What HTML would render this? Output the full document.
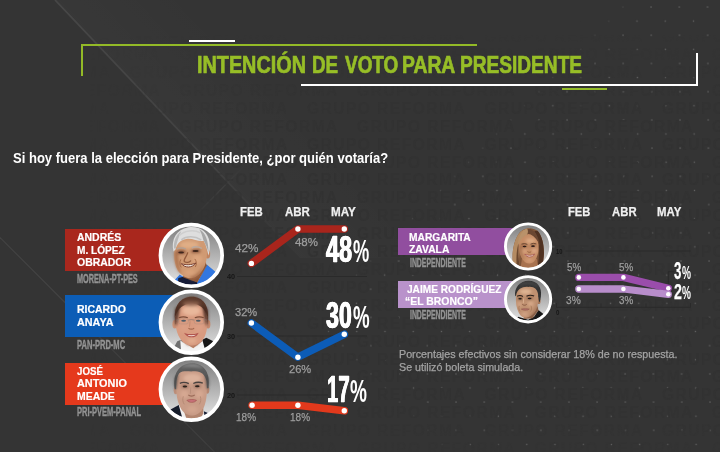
<!DOCTYPE html>
<html lang="es">
<head>
<meta charset="utf-8">
<title>Intención de voto para Presidente</title>
<style>
html,body{margin:0;padding:0;}
body{width:720px;height:452px;overflow:hidden;background:#343434;font-family:"Liberation Sans",sans-serif;}
#stage{position:relative;width:720px;height:452px;overflow:hidden;background:#343434;}
.t{position:absolute;white-space:nowrap;line-height:1;transform-origin:0 0;font-family:"Liberation Sans",sans-serif;}
.abs{position:absolute;}
.wm{position:absolute;left:60px;top:84px;width:680px;font-weight:bold;font-size:17px;line-height:17.6px;color:#313131;letter-spacing:0.5px;white-space:nowrap;overflow:hidden;}
.wmwrap{position:absolute;left:0;top:0;width:720px;height:452px;overflow:hidden;-webkit-mask-image:linear-gradient(to right,rgba(0,0,0,0) 90px,rgba(0,0,0,1) 340px);mask-image:linear-gradient(to right,rgba(0,0,0,0) 90px,rgba(0,0,0,1) 340px);}
.wmwrap2{position:absolute;left:0;top:0;width:720px;height:452px;-webkit-mask-image:linear-gradient(to bottom,rgba(0,0,0,0) 35px,rgba(0,0,0,1) 125px,rgba(0,0,0,1) 395px,rgba(0,0,0,0.25) 452px);mask-image:linear-gradient(to bottom,rgba(0,0,0,0) 35px,rgba(0,0,0,1) 125px,rgba(0,0,0,1) 395px,rgba(0,0,0,0.25) 452px);}
.wr{position:absolute;white-space:nowrap;height:16px;line-height:16px;font-size:15.6px;font-weight:bold;color:#323232;letter-spacing:1.45px;}
.wc{display:inline-block;width:177.5px;}
svg{position:absolute;left:0;top:0;}
</style>
</head>
<body>
<div id="stage">

<!-- background layer: diagonals, watermark, dots -->
<svg width="720" height="452" viewBox="0 0 720 452">
  <defs>
    <pattern id="dotp" x="594.6" y="7" width="28.22" height="28.22" patternUnits="userSpaceOnUse" patternTransform="matrix(1,0,0.0063,1,-0.05,0)">
      <rect x="-0.6" y="-0.6" width="1.3" height="1.3" fill="#636363"/>
      <rect x="27.62" y="-0.6" width="1.3" height="1.3" fill="#636363"/>
      <rect x="-0.6" y="27.62" width="1.3" height="1.3" fill="#636363"/>
      <rect x="27.62" y="27.62" width="1.3" height="1.3" fill="#636363"/>
      <rect x="13.46" y="13.46" width="1.3" height="1.3" fill="#636363"/>
    </pattern>
    <filter id="mblur" x="-10%" y="-10%" width="120%" height="120%"><feGaussianBlur stdDeviation="9"/></filter>
    <mask id="dotmask" maskUnits="userSpaceOnUse" x="0" y="0" width="720" height="452"><polygon points="664,-30 312,322 482,480 780,480 780,-30" fill="#fff" filter="url(#mblur)"/></mask>
    <linearGradient id="diag1" gradientUnits="userSpaceOnUse" x1="55" y1="0" x2="300" y2="258">
      <stop offset="0" stop-color="#474747"/>
      <stop offset="0.65" stop-color="#424242"/>
      <stop offset="1" stop-color="#3a3a3a" stop-opacity="0"/>
    </linearGradient>
    <linearGradient id="fold" gradientUnits="userSpaceOnUse" x1="150" y1="100" x2="222" y2="31">
      <stop offset="0" stop-color="#fff" stop-opacity="0.018"/>
      <stop offset="1" stop-color="#fff" stop-opacity="0"/>
    </linearGradient>
    <linearGradient id="diag2" gradientUnits="userSpaceOnUse" x1="190" y1="221" x2="245" y2="165">
      <stop offset="0" stop-color="#3d3d3d" stop-opacity="0"/>
      <stop offset="0.6" stop-color="#3f3f3f"/>
      <stop offset="1" stop-color="#3d3d3d" stop-opacity="0"/>
    </linearGradient>
  </defs>
  <polygon points="55,0 300,258 720,258 720,0" fill="url(#fold)"/>
  <line x1="55" y1="0" x2="300" y2="258" stroke="url(#diag1)" stroke-width="1.7"/>
  <line x1="190" y1="221" x2="245" y2="165" stroke="url(#diag2)" stroke-width="1.1"/>
  <line x1="-1" y1="236.5" x2="66" y2="303.5" stroke="#434343" stroke-width="1.2"/>
  <line x1="66" y1="303.5" x2="216" y2="453.5" stroke="#3e3e3e" stroke-width="1.2"/>
  <rect width="720" height="452" fill="url(#dotp)" mask="url(#dotmask)"/>
</svg>

<!-- watermark -->
<div class="wmwrap"><div class="wmwrap2">
<div class="wr" style="left:-48.1px;top:-6.6px"><span class="wc">GRUPO REFORMA</span><span class="wc">GRUPO REFORMA</span><span class="wc">GRUPO REFORMA</span><span class="wc">GRUPO REFORMA</span><span class="wc">GRUPO REFORMA</span><span class="wc">GRUPO REFORMA</span></div>
<div class="wr" style="left:2.1px;top:11.3px"><span class="wc">GRUPO REFORMA</span><span class="wc">GRUPO REFORMA</span><span class="wc">GRUPO REFORMA</span><span class="wc">GRUPO REFORMA</span><span class="wc">GRUPO REFORMA</span><span class="wc">GRUPO REFORMA</span></div>
<div class="wr" style="left:-48.1px;top:29.2px"><span class="wc">GRUPO REFORMA</span><span class="wc">GRUPO REFORMA</span><span class="wc">GRUPO REFORMA</span><span class="wc">GRUPO REFORMA</span><span class="wc">GRUPO REFORMA</span><span class="wc">GRUPO REFORMA</span></div>
<div class="wr" style="left:2.1px;top:47.1px"><span class="wc">GRUPO REFORMA</span><span class="wc">GRUPO REFORMA</span><span class="wc">GRUPO REFORMA</span><span class="wc">GRUPO REFORMA</span><span class="wc">GRUPO REFORMA</span><span class="wc">GRUPO REFORMA</span></div>
<div class="wr" style="left:-48.1px;top:65.0px"><span class="wc">GRUPO REFORMA</span><span class="wc">GRUPO REFORMA</span><span class="wc">GRUPO REFORMA</span><span class="wc">GRUPO REFORMA</span><span class="wc">GRUPO REFORMA</span><span class="wc">GRUPO REFORMA</span></div>
<div class="wr" style="left:2.1px;top:82.9px"><span class="wc">GRUPO REFORMA</span><span class="wc">GRUPO REFORMA</span><span class="wc">GRUPO REFORMA</span><span class="wc">GRUPO REFORMA</span><span class="wc">GRUPO REFORMA</span><span class="wc">GRUPO REFORMA</span></div>
<div class="wr" style="left:-48.1px;top:100.8px"><span class="wc">GRUPO REFORMA</span><span class="wc">GRUPO REFORMA</span><span class="wc">GRUPO REFORMA</span><span class="wc">GRUPO REFORMA</span><span class="wc">GRUPO REFORMA</span><span class="wc">GRUPO REFORMA</span></div>
<div class="wr" style="left:2.1px;top:118.7px"><span class="wc">GRUPO REFORMA</span><span class="wc">GRUPO REFORMA</span><span class="wc">GRUPO REFORMA</span><span class="wc">GRUPO REFORMA</span><span class="wc">GRUPO REFORMA</span><span class="wc">GRUPO REFORMA</span></div>
<div class="wr" style="left:-48.1px;top:136.6px"><span class="wc">GRUPO REFORMA</span><span class="wc">GRUPO REFORMA</span><span class="wc">GRUPO REFORMA</span><span class="wc">GRUPO REFORMA</span><span class="wc">GRUPO REFORMA</span><span class="wc">GRUPO REFORMA</span></div>
<div class="wr" style="left:2.1px;top:154.5px"><span class="wc">GRUPO REFORMA</span><span class="wc">GRUPO REFORMA</span><span class="wc">GRUPO REFORMA</span><span class="wc">GRUPO REFORMA</span><span class="wc">GRUPO REFORMA</span><span class="wc">GRUPO REFORMA</span></div>
<div class="wr" style="left:-48.1px;top:172.4px"><span class="wc">GRUPO REFORMA</span><span class="wc">GRUPO REFORMA</span><span class="wc">GRUPO REFORMA</span><span class="wc">GRUPO REFORMA</span><span class="wc">GRUPO REFORMA</span><span class="wc">GRUPO REFORMA</span></div>
<div class="wr" style="left:2.1px;top:190.3px"><span class="wc">GRUPO REFORMA</span><span class="wc">GRUPO REFORMA</span><span class="wc">GRUPO REFORMA</span><span class="wc">GRUPO REFORMA</span><span class="wc">GRUPO REFORMA</span><span class="wc">GRUPO REFORMA</span></div>
<div class="wr" style="left:-48.1px;top:208.2px"><span class="wc">GRUPO REFORMA</span><span class="wc">GRUPO REFORMA</span><span class="wc">GRUPO REFORMA</span><span class="wc">GRUPO REFORMA</span><span class="wc">GRUPO REFORMA</span><span class="wc">GRUPO REFORMA</span></div>
<div class="wr" style="left:2.1px;top:226.1px"><span class="wc">GRUPO REFORMA</span><span class="wc">GRUPO REFORMA</span><span class="wc">GRUPO REFORMA</span><span class="wc">GRUPO REFORMA</span><span class="wc">GRUPO REFORMA</span><span class="wc">GRUPO REFORMA</span></div>
<div class="wr" style="left:-48.1px;top:244.0px"><span class="wc">GRUPO REFORMA</span><span class="wc">GRUPO REFORMA</span><span class="wc">GRUPO REFORMA</span><span class="wc">GRUPO REFORMA</span><span class="wc">GRUPO REFORMA</span><span class="wc">GRUPO REFORMA</span></div>
<div class="wr" style="left:2.1px;top:261.9px"><span class="wc">GRUPO REFORMA</span><span class="wc">GRUPO REFORMA</span><span class="wc">GRUPO REFORMA</span><span class="wc">GRUPO REFORMA</span><span class="wc">GRUPO REFORMA</span><span class="wc">GRUPO REFORMA</span></div>
<div class="wr" style="left:-48.1px;top:279.9px"><span class="wc">GRUPO REFORMA</span><span class="wc">GRUPO REFORMA</span><span class="wc">GRUPO REFORMA</span><span class="wc">GRUPO REFORMA</span><span class="wc">GRUPO REFORMA</span><span class="wc">GRUPO REFORMA</span></div>
<div class="wr" style="left:2.1px;top:297.8px"><span class="wc">GRUPO REFORMA</span><span class="wc">GRUPO REFORMA</span><span class="wc">GRUPO REFORMA</span><span class="wc">GRUPO REFORMA</span><span class="wc">GRUPO REFORMA</span><span class="wc">GRUPO REFORMA</span></div>
<div class="wr" style="left:-48.1px;top:315.7px"><span class="wc">GRUPO REFORMA</span><span class="wc">GRUPO REFORMA</span><span class="wc">GRUPO REFORMA</span><span class="wc">GRUPO REFORMA</span><span class="wc">GRUPO REFORMA</span><span class="wc">GRUPO REFORMA</span></div>
<div class="wr" style="left:2.1px;top:333.6px"><span class="wc">GRUPO REFORMA</span><span class="wc">GRUPO REFORMA</span><span class="wc">GRUPO REFORMA</span><span class="wc">GRUPO REFORMA</span><span class="wc">GRUPO REFORMA</span><span class="wc">GRUPO REFORMA</span></div>
<div class="wr" style="left:-48.1px;top:351.5px"><span class="wc">GRUPO REFORMA</span><span class="wc">GRUPO REFORMA</span><span class="wc">GRUPO REFORMA</span><span class="wc">GRUPO REFORMA</span><span class="wc">GRUPO REFORMA</span><span class="wc">GRUPO REFORMA</span></div>
<div class="wr" style="left:2.1px;top:369.4px"><span class="wc">GRUPO REFORMA</span><span class="wc">GRUPO REFORMA</span><span class="wc">GRUPO REFORMA</span><span class="wc">GRUPO REFORMA</span><span class="wc">GRUPO REFORMA</span><span class="wc">GRUPO REFORMA</span></div>
<div class="wr" style="left:-48.1px;top:387.3px"><span class="wc">GRUPO REFORMA</span><span class="wc">GRUPO REFORMA</span><span class="wc">GRUPO REFORMA</span><span class="wc">GRUPO REFORMA</span><span class="wc">GRUPO REFORMA</span><span class="wc">GRUPO REFORMA</span></div>
<div class="wr" style="left:2.1px;top:405.2px"><span class="wc">GRUPO REFORMA</span><span class="wc">GRUPO REFORMA</span><span class="wc">GRUPO REFORMA</span><span class="wc">GRUPO REFORMA</span><span class="wc">GRUPO REFORMA</span><span class="wc">GRUPO REFORMA</span></div>
<div class="wr" style="left:-48.1px;top:423.1px"><span class="wc">GRUPO REFORMA</span><span class="wc">GRUPO REFORMA</span><span class="wc">GRUPO REFORMA</span><span class="wc">GRUPO REFORMA</span><span class="wc">GRUPO REFORMA</span><span class="wc">GRUPO REFORMA</span></div>
<div class="wr" style="left:2.1px;top:441.0px"><span class="wc">GRUPO REFORMA</span><span class="wc">GRUPO REFORMA</span><span class="wc">GRUPO REFORMA</span><span class="wc">GRUPO REFORMA</span><span class="wc">GRUPO REFORMA</span><span class="wc">GRUPO REFORMA</span></div>
</div></div>

<!-- title frame -->
<div class="abs" style="left:189px;top:40px;width:46px;height:2px;background:#fff"></div>
<div class="abs" style="left:81px;top:44px;width:396px;height:2px;background:#93ba27"></div>
<div class="abs" style="left:81px;top:44px;width:2px;height:31.6px;background:#93ba27"></div>
<div class="abs" style="left:301px;top:84px;width:397px;height:2px;background:#fff"></div>
<div class="abs" style="left:696px;top:53px;width:2px;height:33px;background:#fff"></div>
<div class="abs" style="left:562px;top:88px;width:45px;height:2px;background:#93ba27"></div>

<!-- candidate colour boxes -->
<div class="abs" style="left:65.2px;top:228.8px;width:128px;height:42px;background:#a9271d"></div>
<div class="abs" style="left:65.2px;top:295.4px;width:128px;height:41.8px;background:#0c5db6"></div>
<div class="abs" style="left:65.2px;top:362.6px;width:128px;height:42px;background:#e5391c"></div>
<div class="abs" style="left:398.2px;top:228.2px;width:130px;height:27.2px;background:#914e9f"></div>
<div class="abs" style="left:398.2px;top:281.1px;width:130px;height:26.8px;background:#b992cb"></div>

<!-- charts -->
<svg width="720" height="452" viewBox="0 0 720 452">
  <!-- axis lines -->
  <g stroke="#2a2a2a" stroke-width="1" fill="none">
    <line x1="237" y1="276.5" x2="367" y2="276.5"/>
    <line x1="237" y1="336" x2="367" y2="336"/>
    <line x1="237" y1="395" x2="328" y2="395"/>
    <line x1="565.5" y1="251" x2="690.5" y2="251"/>
    <path d="M556.5 303 V307.3 H690.5 V303 M601 303.5 V307.3 M646 303.5 V307.3"/>
    <path d="M674 271.7 H668.3 V286"/>
  </g>
  <!-- AMLO -->
  <polyline points="251.4,263.4 297.9,229 344.3,229" fill="none" stroke="#a9251c" stroke-width="7.6" stroke-linecap="round" stroke-linejoin="round"/>
  <!-- Anaya -->
  <polyline points="251.4,323 297.9,357.2 344.3,334.3" fill="none" stroke="#0c5cb7" stroke-width="7.6" stroke-linecap="round" stroke-linejoin="round"/>
  <!-- Meade -->
  <polyline points="252.1,405.3 297.9,405.3 344.3,410.7" fill="none" stroke="#e2391c" stroke-width="7.6" stroke-linecap="round" stroke-linejoin="round"/>
  <!-- Zavala -->
  <polyline points="578.8,277.4 623.4,277.4 668.3,288.3" fill="none" stroke="#9a4dab" stroke-width="7.3" stroke-linecap="round" stroke-linejoin="round"/>
  <!-- Bronco -->
  <polyline points="578.8,289 623.4,289 668.3,294.3" fill="none" stroke="#b88dcb" stroke-width="7.3" stroke-linecap="round" stroke-linejoin="round"/>
  <g fill="#fff">
    <circle cx="251.4" cy="263.4" r="2.7"/><circle cx="297.9" cy="229" r="2.7"/><circle cx="344.3" cy="229" r="2.7"/>
    <circle cx="251.4" cy="323" r="2.7"/><circle cx="297.9" cy="357.2" r="2.7"/><circle cx="344.3" cy="334.3" r="2.7"/>
    <circle cx="252.1" cy="405.3" r="2.7"/><circle cx="297.9" cy="405.3" r="2.7"/><circle cx="344.3" cy="410.7" r="2.7"/>
    <circle cx="578.8" cy="277.4" r="2.3"/><circle cx="623.4" cy="277.4" r="2.3"/><circle cx="668.3" cy="288.3" r="2.3"/>
    <circle cx="578.8" cy="289" r="2.3"/><circle cx="623.4" cy="289" r="2.3"/><circle cx="668.3" cy="294.3" r="2.3"/>
  </g>
</svg>

<!-- portraits -->
<svg width="720" height="452" viewBox="0 0 720 452">
  <defs>
    <linearGradient id="pbg" x1="0" x2="0" y1="0" y2="1">
      <stop offset="0" stop-color="#7c7c7c"/><stop offset="0.5" stop-color="#b2b2b2"/><stop offset="1" stop-color="#e6e6e6"/>
    </linearGradient>
  </defs>
    <defs>
    <filter id="bl" x="-20%" y="-20%" width="140%" height="140%"><feGaussianBlur stdDeviation="0.6"/></filter>
    <filter id="bl2" x="-30%" y="-30%" width="160%" height="160%"><feGaussianBlur stdDeviation="1.4"/></filter>
    <clipPath id="c29"><circle cx="0" cy="0" r="29.4"/></clipPath>
    <clipPath id="c21"><circle cx="0" cy="0" r="21.4"/></clipPath>
  </defs>

  <!-- 1: Lopez Obrador -->
  <g transform="translate(191.3,255.4)">
    <circle r="31" fill="url(#pbg)"/>
    <g clip-path="url(#c29)">
      <g filter="url(#bl)">
        <!-- shirt -->
        <path d="M-20,28 L-11.5,19 L-4,24 L6,27 L15.5,9 L25,17 L30,36 L-24,36 Z" fill="#3177e0"/>
        <path d="M-13,22.5 L-7,21 L6,26.5 L5,32 L-14,32 Z" fill="#141f38"/>
        <!-- neck -->
        <path d="M-8,14 L14,6 L15.5,10 L6,27 L-8,22 Z" fill="#8a5638"/>
        <!-- ear -->
        <ellipse cx="16.3" cy="-1.5" rx="2.6" ry="4.6" fill="#c2845e"/>
        <!-- face -->
        <path d="M-16,-12 C-18,-2 -17.5,8 -13.5,15 C-9,21.5 -3,23.5 1,22.5 C8,21 13.5,13 15,5 C16.5,-3 15.5,-12 12,-18 C5,-22 -9,-22 -16,-12 Z" fill="#d09a73"/>
      </g>
      <g filter="url(#bl2)">
        <ellipse cx="-2" cy="-10.5" rx="9.5" ry="3.6" fill="#e0ae86"/>
        <ellipse cx="6" cy="4" rx="5" ry="4.5" fill="#dba57e"/>
        <ellipse cx="-1.5" cy="17" rx="5" ry="3" fill="#d9a27a"/>
        <path d="M-17,-4 C-17,6 -15,14 -10,19 C-12.5,10 -13.5,4 -13.5,-4 Z" fill="#a96f4c"/>
        <path d="M-2,21.5 C5,20.5 10,15.5 13,8.5 C12,17 7,23 0,24 Z" fill="#a56c4a"/>
        <ellipse cx="-10" cy="-3.5" rx="4.5" ry="2.2" fill="#8e5a40"/>
        <ellipse cx="4.5" cy="-4.5" rx="4.8" ry="2.2" fill="#8e5a40"/>
      </g>
      <g filter="url(#bl)">
        <!-- hair -->
        <path d="M-17.8,-4 C-20.5,-16 -15,-26 -3,-28.2 C8,-29.8 17,-24 18.3,-13 C18.8,-8 18.3,-3 17,0 C16,-5 15.5,-9 12.5,-14.5 C7,-13.5 1,-17.5 -5,-16.5 C-11,-15.5 -14.5,-11.5 -15.8,-6 Z" fill="#dedede"/>
        <path d="M8,-26 C14.5,-23 17,-15 17.3,-3 C15.5,-9 14,-12 12,-15.5 C11,-20 10,-23 8,-26 Z" fill="#a6a6a6"/>
        <path d="M-17.3,-7 C-18,-14 -15,-21 -10,-24.5 C-12.5,-19 -14.5,-13 -15.6,-7 Z" fill="#b9b9b9"/>
        <path d="M-12,-20 C-7,-25 3,-26 9,-22.5" stroke="#cfcfcf" stroke-width="1.6" fill="none"/>
        <path d="M-10,-15.5 C-5,-19.5 3,-19.8 10,-15.5" stroke="#c2c2c2" stroke-width="1.4" fill="none"/>
        <!-- brows & eyes -->
        <path d="M-14.5,-6.3 Q-10,-8.8 -5.5,-6.3" stroke="#b0a096" stroke-width="1.2" fill="none"/>
        <path d="M0.5,-7.6 Q5,-9.8 10.5,-7" stroke="#b9aaa0" stroke-width="1.5" fill="none"/>
        <ellipse cx="-10.2" cy="-3" rx="2.9" ry="1" fill="#3e251b"/>
        <ellipse cx="4.3" cy="-4.3" rx="3.1" ry="1" fill="#3e251b"/>
        <!-- nose -->
        <path d="M-3.5,-3 C-4.5,1 -8,4 -7,6 C-5,7.6 -1.5,7.2 -0.5,5" stroke="#935a3c" stroke-width="1.3" fill="none"/>
        <!-- folds -->
        <path d="M-10.5,4 C-12,7 -11.5,10 -10,12" stroke="#a56a48" stroke-width="1" fill="none"/>
        <path d="M3.5,3.5 C5.5,6 5.5,9 4,11.5" stroke="#a56a48" stroke-width="1" fill="none"/>
        <!-- mouth -->
        <path d="M-10,8.2 C-6.5,12.8 1,12.8 4.6,7.6 C0,9.6 -5,10 -10,8.2 Z" fill="#f6f0ea" stroke="#7c4130" stroke-width="1"/>
      </g>
    </g>
    <circle r="30.85" fill="none" stroke="#fff" stroke-width="3.7"/>
  </g>

  <!-- 2: Anaya -->
  <g transform="translate(191.3,322.3)">
    <circle r="31" fill="url(#pbg)"/>
    <g clip-path="url(#c29)">
      <g filter="url(#bl)">
        <!-- jacket + shirt -->
        <path d="M-20,30 L-14,19 L-9,17 L-6,32 Z" fill="#6f6f6f"/>
        <path d="M-11,18 L-4,24 L6,24 L12,17 L16,32 L-10,32 Z" fill="#f4f4f4"/>
        <path d="M11,17.5 L15,15.5 L22,19 L26,32 L15,32 Z" fill="#171717"/>
        <!-- neck -->
        <path d="M-9,12 L11,12 L11,19 L2,26 L-8,20 Z" fill="#b98066"/>
        <!-- ears -->
        <ellipse cx="-16.6" cy="2" rx="2.3" ry="4.3" fill="#cf957a"/>
        <ellipse cx="16.8" cy="2" rx="2.3" ry="4.3" fill="#c98d72"/>
        <!-- head (hair colour base) -->
        <path d="M-16.3,-4 C-17.5,-16 -11,-25.5 0.5,-25.5 C12,-25.5 18,-16 16.6,-4 L16,2 L-15.8,2 Z" fill="#5a382b"/>
        <!-- face -->
        <path d="M-15.8,-6 C-16.5,4 -14.5,12 -10,18 C-6,22.5 -2,23.5 1,23.3 C5,23 9,21 12.5,16 C15.5,11 16.5,3 15.9,-6 C13.5,-14 8,-18.6 0.5,-18.6 C-8,-18.6 -13.5,-14 -15.8,-6 Z" fill="#d99b80"/>
      </g>
      <g filter="url(#bl2)">
        <ellipse cx="0" cy="-11.5" rx="9" ry="5" fill="#e9b89b"/>
        <ellipse cx="0" cy="-18.5" rx="8.5" ry="2.4" fill="#8f6350"/>
        <ellipse cx="-7" cy="6" rx="4" ry="4" fill="#dc9f84"/>
        <ellipse cx="7.5" cy="6" rx="4" ry="4" fill="#dc9f84"/>
        <ellipse cx="0.5" cy="18.5" rx="4.5" ry="3" fill="#e0aa8e"/>
        <path d="M-15.8,-14 C-17.3,-6 -16.8,0 -15.2,4.5 C-13,-2 -13.2,-10 -10,-18 Z" fill="#472a20"/>
        <path d="M15.8,-14 C17.3,-6 16.8,0 15.2,4.5 C13,-2 13.2,-10 10,-18 Z" fill="#472a20"/>
        <path d="M-11,-20 C-4,-27 5,-27 12,-20 C5,-23 -4,-23 -11,-20 Z" fill="#5e3c2e"/>
        <path d="M-8,20 C-3,25 5,25 10,19 C6,25 -4,26 -8,20 Z" fill="#a87058"/>
      </g>
      <g filter="url(#bl)">
        <!-- brows, glasses, eyes -->
        <path d="M-12.5,-4.6 Q-8,-6.4 -3.5,-4.6" stroke="#7a4c38" stroke-width="1.2" fill="none"/>
        <path d="M3.5,-4.6 Q8,-6.4 12.5,-4.6" stroke="#7a4c38" stroke-width="1.2" fill="none"/>
        <path d="M-15,-2.2 L-12.5,-2.6 M12.5,-2.6 L15.5,-2.2 M-3,-2.2 Q0,-3.2 3,-2.2" stroke="#8b7468" stroke-width="0.7" fill="none"/>
        <rect x="-12.8" y="-3.6" width="9.8" height="5.2" rx="2" fill="none" stroke="#a08a7e" stroke-width="0.5" opacity="0.7"/>
        <rect x="3" y="-3.6" width="9.8" height="5.2" rx="2" fill="none" stroke="#a08a7e" stroke-width="0.5" opacity="0.7"/>
        <ellipse cx="-7.7" cy="-1.6" rx="2.4" ry="1" fill="#4f5b66"/>
        <ellipse cx="7" cy="-1.6" rx="2.4" ry="1" fill="#4f5b66"/>
        <!-- nose -->
        <path d="M-2.8,5.8 C-1.5,7.2 1.5,7.2 2.8,5.8" stroke="#a5684f" stroke-width="1.2" fill="none"/>
        <path d="M-1.2,-1 L-1.8,4.5" stroke="#c48a70" stroke-width="1" fill="none"/>
        <!-- mouth -->
        <path d="M-5.8,11.6 C-3,12.6 3,12.6 6.2,11.4 C4,15.4 -3,15.6 -5.8,11.6 Z" fill="#f2e4dc" stroke="#b2564f" stroke-width="1.1"/>
      </g>
    </g>
    <circle r="30.85" fill="none" stroke="#fff" stroke-width="3.7"/>
  </g>

  <!-- 3: Meade -->
  <g transform="translate(191.3,389.3)">
    <circle r="31" fill="url(#pbg)"/>
    <g clip-path="url(#c29)">
      <g filter="url(#bl)">
        <!-- jacket + collar -->
        <path d="M-24,22 L-12,15.5 L-6,32 L-24,34 Z" fill="#161a2c"/>
        <path d="M-12.5,16 L-9.5,15 L-3,32 L-8,32 Z" fill="#f2f2f2"/>
        <path d="M9,25 L12.5,22 L15,32 L8,32 Z" fill="#efefef"/>
        <path d="M12.5,22 L16,23.5 L20,32 L14,32 Z" fill="#1a2036"/>
        <!-- neck -->
        <path d="M-10,14 L12,14 L12,24 L8,32 L-4,32 Z" fill="#b38670"/>
        <!-- ears -->
        <ellipse cx="-15.6" cy="1" rx="2" ry="4" fill="#bd8f7a"/>
        <ellipse cx="16" cy="0.5" rx="2" ry="4" fill="#b88872"/>
        <!-- hair base -->
        <path d="M-16.5,0 C-19,-14 -13,-25.5 0,-26 C12,-26.5 19.5,-17 17.2,-1 L15,-1 L-14.5,0 Z" fill="#5c5c5c"/>
        <!-- face -->
        <path d="M-14.8,-8 C-15.8,4 -14,13 -10,20 C-6.5,25 -2,26.5 1.5,26.3 C6,26 10,23 13,17 C15.5,11 16,2 15.2,-8 C14,-15 9,-18.5 3,-18 C-3,-17.5 -9,-19 -12,-16 C-13.5,-14 -14.5,-11 -14.8,-8 Z" fill="#c99c87"/>
      </g>
      <g filter="url(#bl2)">
        <ellipse cx="1" cy="-11" rx="9" ry="4.5" fill="#dcb29c"/>
        <ellipse cx="-7" cy="5" rx="4" ry="4" fill="#d6a892"/>
        <ellipse cx="8" cy="5" rx="4" ry="4" fill="#d6a892"/>
        <ellipse cx="1" cy="20" rx="5" ry="3.5" fill="#d2a48e"/>
        <path d="M-11,-21.5 C-5,-26.5 6,-26.5 13,-21 C6,-22.5 -4,-23.5 -11,-21.5 Z" fill="#8e8e8e"/>
        <path d="M-16,-12 C-17.5,-6 -16.5,-2 -15.5,1 C-14.5,-4 -14.5,-10 -12.5,-16 Z" fill="#444"/>
        <path d="M16.5,-12 C18,-6 17,-2 16,1 C15,-4 15,-10 13,-16 Z" fill="#444"/>
        <path d="M-9,22 C-3,28 6,28 11,21 C7,27 -4,29 -9,22 Z" fill="#9d735f"/>
        <ellipse cx="-6.4" cy="-3" rx="3.6" ry="2" fill="#9a7260"/>
        <ellipse cx="6" cy="-3.2" rx="3.6" ry="2" fill="#9a7260"/>
      </g>
      <g filter="url(#bl)">
        <path d="M-11.5,-6 Q-7,-8 -2.5,-5.6" stroke="#4a4340" stroke-width="1.4" fill="none"/>
        <path d="M2,-5.8 Q6.5,-8.2 11.5,-6.2" stroke="#4a4340" stroke-width="1.4" fill="none"/>
        <ellipse cx="-6.4" cy="-2.7" rx="2.3" ry="1" fill="#2b211e"/>
        <ellipse cx="6" cy="-3" rx="2.3" ry="1" fill="#2b211e"/>
        <path d="M-3,5.6 C-1.5,7.2 2,7.2 3.4,5.6" stroke="#9a6a57" stroke-width="1.2" fill="none"/>
        <path d="M-0.5,-2 L-1,4.5" stroke="#b98e7a" stroke-width="1" fill="none"/>
        <path d="M-4.4,11 C-2,10 3,10 5.2,11 C3.5,13.6 -2.5,13.8 -4.4,11 Z" fill="#c9717a" stroke="#a0564f" stroke-width="0.7"/>
        <path d="M-8,7 C-9,10 -8.5,13 -7,15 M9,7 C10,10 9.5,13 8,15" stroke="#b08571" stroke-width="0.8" fill="none"/>
      </g>
    </g>
    <circle r="30.85" fill="none" stroke="#fff" stroke-width="3.7"/>
  </g>

  <!-- 4: Zavala -->
  <g transform="translate(528.1,246.5)">
    <circle r="22.8" fill="url(#pbg)"/>
    <g clip-path="url(#c21)"><g transform="translate(0.3,0.6) scale(1.07,1.05)">
      <g filter="url(#bl)">
        <!-- hair back -->
        <path d="M-13,23 C-16.5,10 -14.5,-4 -9.5,-12 C-5.5,-18.5 3,-19.5 8.5,-15.5 C13.5,-10.5 15.5,2 14,12 C13.5,17 12.5,21 11.5,24 Z" fill="#7d5439"/>
        <path d="M-13.5,23 C-16.5,10 -14.5,-4 -9.5,-12 C-6.5,-16.5 -2,-18 1.5,-18 C-5,-12 -8,-2 -8.5,8 C-9,14 -8.5,19 -7.5,24 Z" fill="#b48b62"/>
        <path d="M-10.5,22 C-12,12 -11,2 -9,-5 C-9.6,3 -9.4,13 -7.6,22 Z" fill="#6b462f"/>
        <path d="M8.5,-15.5 C13.5,-10.5 15.5,2 14,12 C13.5,17 12.5,21 11.5,24 L7.5,24 C9.5,16 10.5,6 9.5,-3 C9,-8 7.5,-12 5.5,-15 Z" fill="#4f3020"/>
        <!-- neck / top -->
        <path d="M-6,11 L8,11 L9.5,24 L-8,24 Z" fill="#a8724f"/>
        <path d="M-8.5,19.5 L-2,21.5 L6,19 L9.5,24 L-10,24 Z" fill="#e9dcd6"/>
        <!-- face -->
        <path d="M-8.8,-3 C-9.2,5 -7.2,10.5 -3.5,14 C-1,16 2.5,16 5,14 C8.2,11 9.8,5 9.4,-3 C9,-9 5.5,-12.8 0.5,-12.8 C-4.5,-12.8 -8.4,-9 -8.8,-3 Z" fill="#c58d66"/>
      </g>
      <g filter="url(#bl2)">
        <ellipse cx="2" cy="-6" rx="4.5" ry="2.4" fill="#dcaa84"/>
        <ellipse cx="-3.5" cy="4" rx="2.4" ry="2.4" fill="#d7a07c"/>
        <ellipse cx="5.5" cy="3.5" rx="2.6" ry="2.6" fill="#dba683"/>
        <ellipse cx="1" cy="12.5" rx="3" ry="1.8" fill="#d39c78"/>
        <path d="M-8.5,-2 C-8.8,5 -7,10 -4,13 C-6,8 -6.5,3 -6.4,-2 Z" fill="#9c6846"/>
        <ellipse cx="-3.6" cy="-0.8" rx="2.6" ry="1.4" fill="#93603f"/>
        <ellipse cx="4.4" cy="-1" rx="2.6" ry="1.4" fill="#93603f"/>
      </g>
      <g filter="url(#bl)">
        <!-- fringe -->
        <path d="M-1,-17.8 C-6.5,-15.5 -10,-9 -10,0 C-8.6,-5.5 -6,-9.5 -1.2,-12 C0,-12.6 0.5,-14 -1,-17.8 Z" fill="#b9926a"/>
        <path d="M-1,-17.8 C4.5,-17.4 9.6,-13 10.6,-1 C8.8,-6.5 6.2,-10 2.2,-12 C0.6,-12.8 -0.6,-12.6 -1.2,-12 C-0.2,-13.5 -0.2,-15.5 -1,-17.8 Z" fill="#6a4630"/>
        <path d="M-6.5,-2.8 Q-3.5,-4 -1,-2.6 M2,-2.8 Q4.6,-4.2 7.4,-3" stroke="#5a3a28" stroke-width="0.8" fill="none"/>
        <ellipse cx="-3.6" cy="-0.6" rx="1.8" ry="0.75" fill="#2a1a14"/>
        <ellipse cx="4.3" cy="-0.9" rx="1.8" ry="0.75" fill="#2a1a14"/>
        <path d="M-0.8,4.2 C0,5.2 1.8,5.2 2.6,4.2" stroke="#96603f" stroke-width="0.9" fill="none"/>
        <path d="M-3.4,6.8 C-0.5,8.2 3.2,8.2 5.8,6.6 C4,10.2 -1.2,10.4 -3.4,6.8 Z" fill="#f2e6de" stroke="#a85a52" stroke-width="0.8"/>
      </g>
    </g></g>
    <circle r="22.65" fill="none" stroke="#fff" stroke-width="2.9"/>
  </g>

  <!-- 5: El Bronco -->
  <g transform="translate(528.1,299.3)">
    <circle r="22.8" fill="url(#pbg)"/>
    <g clip-path="url(#c21)">
      <g filter="url(#bl)">
        <!-- shirt -->
        <path d="M-14,23 L-10,17.5 L0,20.5 L6,17.5 L10.4,10.6 L15,14.5 L19,24 L-15,24 Z" fill="#131313"/>
        <!-- neck -->
        <path d="M-6,10 L9.4,7 L10.4,11 L4.4,19 L-4,19.6 Z" fill="#8d6247"/>
        <!-- ear -->
        <ellipse cx="10.8" cy="1.6" rx="1.7" ry="3.1" fill="#a87b5e"/>
        <!-- hair -->
        <path d="M-12.8,-3 C-14.4,-11.5 -8,-18.6 0.5,-18.6 C9.4,-18.6 14,-12 12.8,-3 C12.4,0 12,2 11.2,3.2 L9.6,-4 L-11.4,-4 Z" fill="#303030"/>
        <!-- face -->
        <path d="M-12,-4 C-12.6,3 -11.7,9 -9.2,13.6 C-7.2,17.2 -4.5,18.6 -2,18.4 C2.4,18 6.4,14.4 8.4,9.8 C10,5.6 10.4,0 10,-5 C9.4,-10 6,-13.2 0,-12.4 C-5,-13 -11,-10.4 -12,-4 Z" fill="#bf9070"/>
      </g>
      <g filter="url(#bl2)">
        <ellipse cx="-2.5" cy="-7.6" rx="6" ry="2.6" fill="#dfb594"/>
        <ellipse cx="-8.6" cy="5" rx="2" ry="3" fill="#d2a485"/>
        <ellipse cx="2.6" cy="4.4" rx="3" ry="3" fill="#d6a888"/>
        <ellipse cx="-3.5" cy="14.6" rx="3.2" ry="2" fill="#d2a586"/>
        <path d="M2,17 C6.4,13.6 9,8 10,2 C10.2,10 6.4,16.6 1,19.4 Z" fill="#825840"/>
        <ellipse cx="-8" cy="-0.8" rx="2.8" ry="1.5" fill="#80583f"/>
        <ellipse cx="1.6" cy="-1" rx="3" ry="1.5" fill="#80583f"/>
        <path d="M-9,-14 C-4,-17 5,-17 10,-13" stroke="#5c5c5c" stroke-width="1.2" fill="none"/>
      </g>
      <g filter="url(#bl)">
        <path d="M-11,-3 Q-8,-4.6 -5.2,-2.8 M-1.6,-3 Q2,-5 6,-3.2" stroke="#2a1f1a" stroke-width="1.1" fill="none"/>
        <ellipse cx="-8" cy="-0.5" rx="1.8" ry="0.75" fill="#1e1613"/>
        <ellipse cx="1.5" cy="-0.8" rx="1.9" ry="0.75" fill="#1e1613"/>
        <path d="M-5.8,5 C-4.8,6.2 -2.4,6.2 -1.4,5" stroke="#865a42" stroke-width="1" fill="none"/>
        <path d="M-4.4,-1 L-4.8,4" stroke="#d8ad8d" stroke-width="1" fill="none"/>
        <path d="M-6.8,9.8 C-4.8,9.2 -1,9.2 1.2,9.8 C-0.6,11.4 -5,11.4 -6.8,9.8 Z" fill="#b27068" stroke="#8a5248" stroke-width="0.5"/>
        <path d="M-8.8,6.6 C-9.6,8.6 -9.2,10.6 -8.2,12 M2.8,6.4 C3.8,8.4 3.6,10.6 2.4,12.2" stroke="#a27558" stroke-width="0.7" fill="none"/>
      </g>
    </g>
    <circle r="22.65" fill="none" stroke="#fff" stroke-width="2.9"/>
  </g>

</svg>

<!-- text -->
<span class="t" style="left:197.06px;top:53.60px;font-size:23.5px;font-weight:bold;color:#97be27;transform:scaleX(0.8430);-webkit-text-stroke:0.7px #97be27;">INTENCIÓN</span>
<span class="t" style="left:311.70px;top:53.60px;font-size:23.5px;font-weight:bold;color:#97be27;transform:scaleX(0.8005);-webkit-text-stroke:0.7px #97be27;">DE</span>
<span class="t" style="left:344.60px;top:53.60px;font-size:23.5px;font-weight:bold;color:#97be27;transform:scaleX(0.8059);-webkit-text-stroke:0.7px #97be27;">VOTO</span>
<span class="t" style="left:402.28px;top:53.60px;font-size:23.5px;font-weight:bold;color:#97be27;transform:scaleX(0.8219);-webkit-text-stroke:0.7px #97be27;">PARA</span>
<span class="t" style="left:460.09px;top:53.60px;font-size:23.5px;font-weight:bold;color:#97be27;transform:scaleX(0.8128);-webkit-text-stroke:0.7px #97be27;">PRESIDENTE</span>
<span class="t" style="left:13.00px;top:150.40px;font-size:15px;font-weight:bold;color:#fff;transform:scaleX(0.8688);">Si hoy fuera la elección para Presidente, ¿por quién votaría?</span>
<span class="t" style="left:240.10px;top:205.80px;font-size:12.6px;font-weight:bold;color:#f0f0f0;transform:scaleX(0.9046);-webkit-text-stroke:0.25px #f0f0f0;">FEB</span>
<span class="t" style="left:284.60px;top:205.80px;font-size:12.6px;font-weight:bold;color:#f0f0f0;transform:scaleX(0.9117);-webkit-text-stroke:0.25px #f0f0f0;">ABR</span>
<span class="t" style="left:331.20px;top:205.80px;font-size:12.6px;font-weight:bold;color:#f0f0f0;transform:scaleX(0.9255);-webkit-text-stroke:0.25px #f0f0f0;">MAY</span>
<span class="t" style="left:567.80px;top:205.80px;font-size:12.6px;font-weight:bold;color:#f0f0f0;transform:scaleX(0.8887);-webkit-text-stroke:0.25px #f0f0f0;">FEB</span>
<span class="t" style="left:611.60px;top:205.80px;font-size:12.6px;font-weight:bold;color:#f0f0f0;transform:scaleX(0.9007);-webkit-text-stroke:0.25px #f0f0f0;">ABR</span>
<span class="t" style="left:657.00px;top:205.80px;font-size:12.6px;font-weight:bold;color:#f0f0f0;transform:scaleX(0.9037);-webkit-text-stroke:0.25px #f0f0f0;">MAY</span>
<span class="t" style="left:77.00px;top:232.30px;font-size:10.9px;font-weight:bold;color:#fff;transform:scaleX(0.9599);-webkit-text-stroke:0.2px #fff;">ANDRÉS</span>
<span class="t" style="left:77.00px;top:244.80px;font-size:10.9px;font-weight:bold;color:#fff;transform:scaleX(0.9288);-webkit-text-stroke:0.2px #fff;">M. LÓPEZ</span>
<span class="t" style="left:77.00px;top:257.40px;font-size:10.9px;font-weight:bold;color:#fff;transform:scaleX(0.9607);-webkit-text-stroke:0.2px #fff;">OBRADOR</span>
<span class="t" style="left:76.60px;top:303.60px;font-size:10.9px;font-weight:bold;color:#fff;transform:scaleX(0.9619);-webkit-text-stroke:0.2px #fff;">RICARDO</span>
<span class="t" style="left:76.60px;top:316.70px;font-size:10.9px;font-weight:bold;color:#fff;transform:scaleX(0.9927);-webkit-text-stroke:0.2px #fff;">ANAYA</span>
<span class="t" style="left:76.60px;top:366.00px;font-size:10.9px;font-weight:bold;color:#fff;transform:scaleX(0.8924);-webkit-text-stroke:0.2px #fff;">JOSÉ</span>
<span class="t" style="left:76.60px;top:378.40px;font-size:10.9px;font-weight:bold;color:#fff;transform:scaleX(0.9968);-webkit-text-stroke:0.2px #fff;">ANTONIO</span>
<span class="t" style="left:76.60px;top:390.80px;font-size:10.9px;font-weight:bold;color:#fff;transform:scaleX(0.9596);-webkit-text-stroke:0.2px #fff;">MEADE</span>
<span class="t" style="left:408.60px;top:231.50px;font-size:10.9px;font-weight:bold;color:#fff;transform:scaleX(0.9395);-webkit-text-stroke:0.2px #fff;">MARGARITA</span>
<span class="t" style="left:408.60px;top:243.70px;font-size:10.9px;font-weight:bold;color:#fff;transform:scaleX(0.9489);-webkit-text-stroke:0.2px #fff;">ZAVALA</span>
<span class="t" style="left:407.30px;top:283.80px;font-size:10.9px;font-weight:bold;color:#fff;transform:scaleX(0.9284);-webkit-text-stroke:0.2px #fff;">JAIME RODRÍGUEZ</span>
<span class="t" style="left:405.30px;top:296.00px;font-size:10.9px;font-weight:bold;color:#fff;transform:scaleX(0.9590);-webkit-text-stroke:0.2px #fff;">“EL BRONCO”</span>
<span class="t" style="left:76.80px;top:272.60px;font-size:12.3px;font-weight:bold;color:#939393;transform:scaleX(0.5925);-webkit-text-stroke:0.4px #939393;">MORENA-PT-PES</span>
<span class="t" style="left:77.30px;top:338.60px;font-size:12.3px;font-weight:bold;color:#939393;transform:scaleX(0.6144);-webkit-text-stroke:0.4px #939393;">PAN-PRD-MC</span>
<span class="t" style="left:77.30px;top:406.00px;font-size:12.3px;font-weight:bold;color:#939393;transform:scaleX(0.6106);-webkit-text-stroke:0.4px #939393;">PRI-PVEM-PANAL</span>
<span class="t" style="left:409.60px;top:257.30px;font-size:12.2px;font-weight:bold;color:#939393;transform:scaleX(0.5641);-webkit-text-stroke:0.4px #939393;">INDEPENDIENTE</span>
<span class="t" style="left:409.60px;top:309.30px;font-size:12.2px;font-weight:bold;color:#939393;transform:scaleX(0.5641);-webkit-text-stroke:0.4px #939393;">INDEPENDIENTE</span>
<span class="t" style="left:234.50px;top:242.70px;font-size:11.3px;font-weight:normal;color:#9e9e9e;transform:scaleX(1.0363);-webkit-text-stroke:0.25px #9e9e9e;">42%</span>
<span class="t" style="left:295.40px;top:237.10px;font-size:11.3px;font-weight:normal;color:#9e9e9e;transform:scaleX(1.0142);-webkit-text-stroke:0.25px #9e9e9e;">48%</span>
<span class="t" style="left:235.00px;top:307.10px;font-size:11.3px;font-weight:normal;color:#9e9e9e;transform:scaleX(0.9832);-webkit-text-stroke:0.25px #9e9e9e;">32%</span>
<span class="t" style="left:288.80px;top:364.20px;font-size:11.3px;font-weight:normal;color:#9e9e9e;transform:scaleX(0.9832);-webkit-text-stroke:0.25px #9e9e9e;">26%</span>
<span class="t" style="left:236.10px;top:412.30px;font-size:11.3px;font-weight:normal;color:#9e9e9e;transform:scaleX(0.8857);-webkit-text-stroke:0.25px #9e9e9e;">18%</span>
<span class="t" style="left:289.90px;top:412.30px;font-size:11.3px;font-weight:normal;color:#9e9e9e;transform:scaleX(0.8857);-webkit-text-stroke:0.25px #9e9e9e;">18%</span>
<span class="t" style="left:566.80px;top:261.60px;font-size:11.0px;font-weight:normal;color:#9e9e9e;transform:scaleX(0.8930);-webkit-text-stroke:0.25px #9e9e9e;">5%</span>
<span class="t" style="left:618.80px;top:261.60px;font-size:11.0px;font-weight:normal;color:#9e9e9e;transform:scaleX(0.8930);-webkit-text-stroke:0.25px #9e9e9e;">5%</span>
<span class="t" style="left:566.10px;top:295.30px;font-size:11.0px;font-weight:normal;color:#9e9e9e;transform:scaleX(0.9240);-webkit-text-stroke:0.25px #9e9e9e;">3%</span>
<span class="t" style="left:618.80px;top:295.30px;font-size:11.0px;font-weight:normal;color:#9e9e9e;transform:scaleX(0.8930);-webkit-text-stroke:0.25px #9e9e9e;">3%</span>
<span class="t" style="left:325.90px;top:231.90px;font-size:36.4px;font-weight:bold;color:#fff;transform:scaleX(0.6435);-webkit-text-stroke:0.4px #fff;text-shadow:0.6px 0 0 #fff,-0.6px 0 0 #fff;">48</span>
<span class="t" style="left:352.90px;top:235.90px;font-size:31.6px;font-weight:bold;color:#fff;transform:scaleX(0.5785);">%</span>
<span class="t" style="left:326.40px;top:297.90px;font-size:36.7px;font-weight:bold;color:#fff;transform:scaleX(0.6318);-webkit-text-stroke:0.4px #fff;text-shadow:0.6px 0 0 #fff,-0.6px 0 0 #fff;">30</span>
<span class="t" style="left:352.50px;top:301.90px;font-size:31.6px;font-weight:bold;color:#fff;transform:scaleX(0.5928);">%</span>
<span class="t" style="left:326.89px;top:372.20px;font-size:36.7px;font-weight:bold;color:#fff;transform:scaleX(0.5560);-webkit-text-stroke:0.4px #fff;text-shadow:0.6px 0 0 #fff,-0.6px 0 0 #fff;">17</span>
<span class="t" style="left:349.80px;top:376.30px;font-size:31.9px;font-weight:bold;color:#fff;transform:scaleX(0.5964);">%</span>
<span class="t" style="left:673.90px;top:260.10px;font-size:23.1px;font-weight:bold;color:#fff;transform:scaleX(0.5769);-webkit-text-stroke:0.25px #fff;">3</span>
<span class="t" style="left:682.20px;top:263.90px;font-size:18.9px;font-weight:bold;color:#fff;transform:scaleX(0.5353);">%</span>
<span class="t" style="left:673.90px;top:280.20px;font-size:22.7px;font-weight:bold;color:#fff;transform:scaleX(0.6246);-webkit-text-stroke:0.25px #fff;">2</span>
<span class="t" style="left:682.20px;top:284.00px;font-size:18.8px;font-weight:bold;color:#fff;transform:scaleX(0.5352);">%</span>
<span class="t" style="left:227.40px;top:273.30px;font-size:7px;font-weight:bold;color:#161616;transform:scaleX(1.0375);">40</span>
<span class="t" style="left:227.40px;top:332.50px;font-size:7px;font-weight:bold;color:#161616;transform:scaleX(1.0375);">30</span>
<span class="t" style="left:227.40px;top:391.80px;font-size:7px;font-weight:bold;color:#161616;transform:scaleX(1.0375);">20</span>
<span class="t" style="left:556.00px;top:247.70px;font-size:7px;font-weight:bold;color:#161616;transform:scaleX(0.8224);">10</span>
<span class="t" style="left:555.70px;top:309.30px;font-size:7px;font-weight:bold;color:#161616;transform:scaleX(0.8721);">0</span>
<span class="t" style="left:398.60px;top:349.40px;font-size:10.8px;font-weight:normal;color:#a3a3a3;transform:scaleX(0.9915);-webkit-text-stroke:0.25px #a3a3a3;">Porcentajes efectivos sin considerar 18% de no respuesta.</span>
<span class="t" style="left:398.60px;top:362.30px;font-size:10.8px;font-weight:normal;color:#a3a3a3;transform:scaleX(0.9901);-webkit-text-stroke:0.25px #a3a3a3;">Se utilizó boleta simulada.</span>

</div>
</body>
</html>
